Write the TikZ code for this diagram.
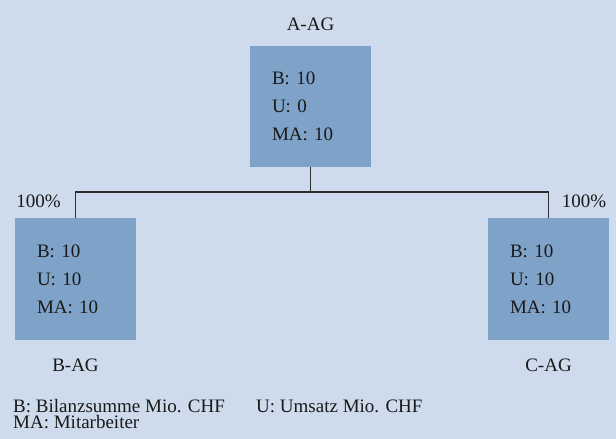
\documentclass[tikz,border=0pt]{standalone}
\usepackage{fontspec}
\setmainfont{Liberation Serif}
\definecolor{bgblue}{RGB}{206,219,236}
\definecolor{boxblue}{RGB}{127,162,200}
\definecolor{txt}{RGB}{25,25,25}
\definecolor{linec}{RGB}{45,45,45}
\begin{document}
\begin{tikzpicture}[x=1bp,y=-1bp,
  company/.style={fill=boxblue, draw=none, minimum width=121bp, minimum height=121bp,
    text width=77bp, inner xsep=22bp, inner ysep=0pt, align=left, text=txt,
    font=\fontsize{19bp}{28bp}\selectfont},
  lbl/.style={text=txt, inner sep=0pt, font=\fontsize{19bp}{23bp}\selectfont},
  conn/.style={draw=linec, line width=1.1bp}]
\fill[bgblue] (0,0) rectangle (616,439);
\useasboundingbox (0,0) rectangle (616,439);
\node[company] (A) at (310.5,106.5) {B: 10\\U: 0\\MA: 10};
\node[company] (B) at (75.5,279) {B: 10\\U: 10\\MA: 10};
\node[company] (C) at (548.5,279) {B: 10\\U: 10\\MA: 10};
\node[lbl] (la) at (310.5,24) {A-AG};
\node[lbl] (lb) at (75.5,365) {B-AG};
\node[lbl] (lc) at (548.5,365) {C-AG};
\node[lbl] (pb) at (38.5,201) {100\%};
\node[lbl] (pc) at (584,201) {100\%};
\coordinate (j) at (310.5,192);
\coordinate (bl) at (B.north |- j);
\coordinate (cr) at (C.north |- j);
\draw[conn] (A.south) -- (j);
\draw[conn] (B.north) -- (bl) -- (cr) -- (C.north);
\node[lbl, anchor=base west, align=left, font=\fontsize{19bp}{16bp}\selectfont] (l1) at (13,428) {B: Bilanzsumme Mio. CHF\\MA: Mitarbeiter};
\node[lbl, anchor=base west] (l2) at (256,412) {U: Umsatz Mio. CHF};
\end{tikzpicture}
\end{document}
